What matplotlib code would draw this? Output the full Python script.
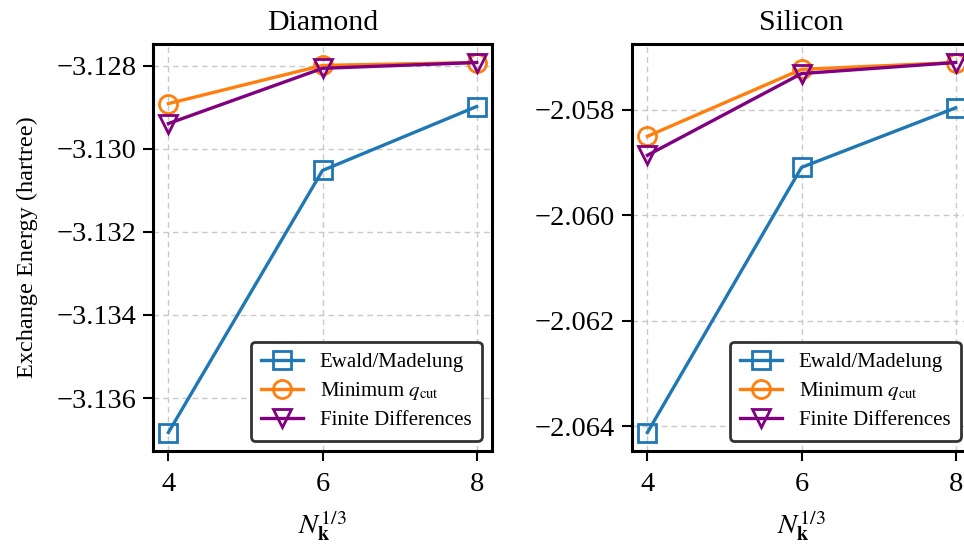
import matplotlib
matplotlib.use("Agg")
import matplotlib.pyplot as plt
from matplotlib.ticker import FuncFormatter

# k-mesh size along each direction
nk = [4, 6, 8]

# exchange energies (hartree) for the three finite-size corrections
diamond_ewald = [-3.13683, -3.13052, -3.12898]
diamond_qcut = [-3.12891, -3.12799, -3.12792]
diamond_fd = [-3.12939, -3.12806, -3.12792]

silicon_ewald = [-2.06412, -2.05909, -2.05796]
silicon_qcut = [-2.05850, -2.05723, -2.05710]
silicon_fd = [-2.05886, -2.05731, -2.05710]

labels = ["Ewald/Madelung", r"Minimum $q_{\rm cut}$", "Finite Differences"]
titles = ["Diamond", "Silicon"]

plt.rcParams.update(
    {
        "font.family": ["Liberation Serif", "DejaVu Serif"],
        "mathtext.fontset": "stix",
        "font.size": 20.5,
        "axes.linewidth": 2.2,
        "xtick.major.size": 7,
        "ytick.major.size": 7,
        "xtick.major.width": 1.5,
        "ytick.major.width": 1.5,
        "xtick.major.pad": 8,
        "ytick.major.pad": 5,
    }
)


def fmt_energy(value, _pos):
    return f"{value:.3f}".replace("-", "\u2212")


fig = plt.figure(figsize=(9.64, 5.48), dpi=100)
ax_d = fig.add_axes([0.1587, 0.177, 0.3517, 0.7427])
ax_s = fig.add_axes([0.6556, 0.177, 0.3517, 0.7427])

styles = [
    {"color": "#1f77b4", "marker": "s"},
    {"color": "#ff7f0e", "marker": "o"},
    {"color": "purple", "marker": "v"},
]

panels = [
    (ax_d, [diamond_ewald, diamond_qcut, diamond_fd], [-3.128, -3.130, -3.132, -3.134, -3.136]),
    (ax_s, [silicon_ewald, silicon_qcut, silicon_fd], [-2.058, -2.060, -2.062, -2.064]),
]

for (ax, series, yticks), title in zip(panels, titles):
    for values, style, label in zip(series, styles, labels):
        ax.plot(
            nk,
            values,
            color=style["color"],
            marker=style["marker"],
            markersize=13,
            markerfacecolor="none",
            markeredgewidth=2.0,
            linewidth=2.4,
            label=label,
        )
    ax.set_xticks(nk)
    ax.set_yticks(yticks)
    ax.yaxis.set_major_formatter(FuncFormatter(fmt_energy))
    ax.grid(True, color="#c8c8c8", linestyle=(0, (4, 3)), linewidth=1.0)
    ax.set_axisbelow(True)
    ax.set_title(title, fontsize=21.5, pad=10)
    ax.set_xlabel(r"$N_{\mathbf{k}}^{1/3}$", labelpad=8)
    leg = ax.legend(
        loc="lower right",
        fontsize=15,
        frameon=True,
        fancybox=True,
        framealpha=1.0,
        edgecolor="#333333",
        handlelength=2.0,
        borderpad=0.5,
        labelspacing=0.4,
    )
    leg.get_frame().set_linewidth(2.0)

ax_d.set_ylabel("Exchange Energy (hartree)", fontsize=17.5, labelpad=13)

fig.savefig("out.png", dpi=100)
